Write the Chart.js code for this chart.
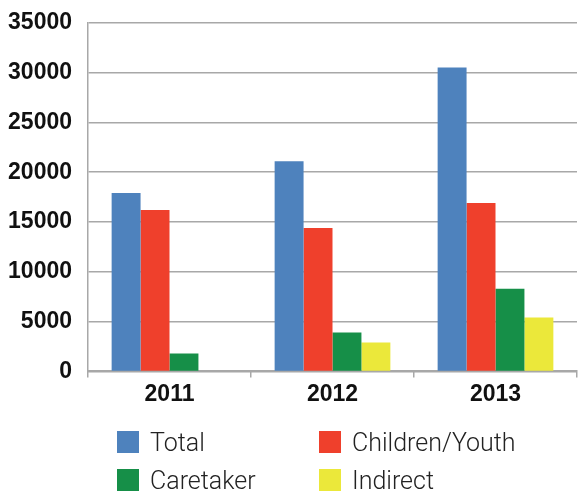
<!DOCTYPE html>
<html>
<head>
<meta charset="utf-8">
<script src="https://cdn.jsdelivr.net/npm/chart.js@4"></script>
<style>
    body { margin: 0; background: #fff; }
    #wrap { position: relative; width: 581px; height: 498px; overflow: hidden; }
    #chart-box { position: absolute; left: 0; top: -7px; width: 581px; height: 418px; }
    #legend { position: absolute; left: 0; top: 0; width: 581px; height: 498px; pointer-events: none; }
    .item { position: absolute; display: flex; align-items: center; height: 22px; font-family: Roboto, 'Liberation Sans', sans-serif; font-weight: 300; font-size: 25px; color: #222; }
    .swatch { width: 22px; height: 22px; margin-right: 11px; flex: none; }
</style>
</head>
<body>
<div id="wrap">
    <div id="chart-box"><canvas id="bar-chart"></canvas></div>
    <div id="legend"></div>
</div>
<script>
// Data
const years = ['2011', '2012', '2013'];
const total = [17900, 21100, 30500];
const childrenYouth = [16200, 14400, 16900];
const caretaker = [1800, 3900, 8300];
const indirect = [0, 2900, 5400];

const yTicks = [0, 5000, 10000, 15000, 20000, 25000, 30000, 35000];

const colors = {
    total: '#4e82bd',
    children: '#ef402c',
    caretaker: '#168f48',
    indirect: '#ebe83a'
};

const tickFont = {
    family: "'Liberation Sans Narrow', 'Liberation Sans', sans-serif",
    size: 23,
    weight: 'bold'
};
const gridColor = '#a8a8a8';

const chart = new Chart(document.getElementById('bar-chart'), {
    type: 'bar',
    data: {
        labels: years,
        datasets: [
            { label: 'Total', data: total, backgroundColor: colors.total },
            { label: 'Children/Youth', data: childrenYouth, backgroundColor: colors.children },
            { label: 'Caretaker', data: caretaker, backgroundColor: colors.caretaker },
            { label: 'Indirect', data: indirect, backgroundColor: colors.indirect }
        ]
    },
    options: {
        responsive: true,
        maintainAspectRatio: false,
        animation: false,
        datasets: {
            bar: { barPercentage: 1, categoryPercentage: 0.71, borderWidth: 0 }
        },
        layout: { padding: { top: 0, right: 4, left: 0, bottom: 0 } },
        plugins: {
            legend: { display: false },
            tooltip: { enabled: false }
        },
        scales: {
            x: {
                grid: {
                    offset: true,
                    drawOnChartArea: false,
                    drawTicks: true,
                    tickLength: 6,
                    color: gridColor,
                    lineWidth: 1.5
                },
                border: { color: gridColor, width: 2 },
                ticks: { color: '#111', font: tickFont, padding: 3 }
            },
            y: {
                min: 0,
                max: 35000,
                afterFit(scale) { scale.width = 88; },
                afterBuildTicks(scale) {
                    scale.ticks = yTicks.map(v => ({ value: v }));
                },
                grid: { color: gridColor, lineWidth: 1.5, drawTicks: false },
                border: { color: gridColor, width: 1.5 },
                ticks: {
                    color: '#111',
                    font: tickFont,
                    padding: 16,
                    callback: v => String(v)
                }
            }
        }
    }
});

// Two-column legend under the plot, built from the chart's datasets
const legendPos = [
    { left: 117, top: 431 },
    { left: 319, top: 431 },
    { left: 117, top: 469 },
    { left: 319, top: 469 }
];
const legendEl = document.getElementById('legend');
chart.data.datasets.forEach((ds, i) => {
    const item = document.createElement('div');
    item.className = 'item';
    item.style.left = legendPos[i].left + 'px';
    item.style.top = legendPos[i].top + 'px';
    const sw = document.createElement('span');
    sw.className = 'swatch';
    sw.style.background = ds.backgroundColor;
    const txt = document.createElement('span');
    txt.textContent = ds.label;
    item.appendChild(sw);
    item.appendChild(txt);
    legendEl.appendChild(item);
});
</script>
</body>
</html>
